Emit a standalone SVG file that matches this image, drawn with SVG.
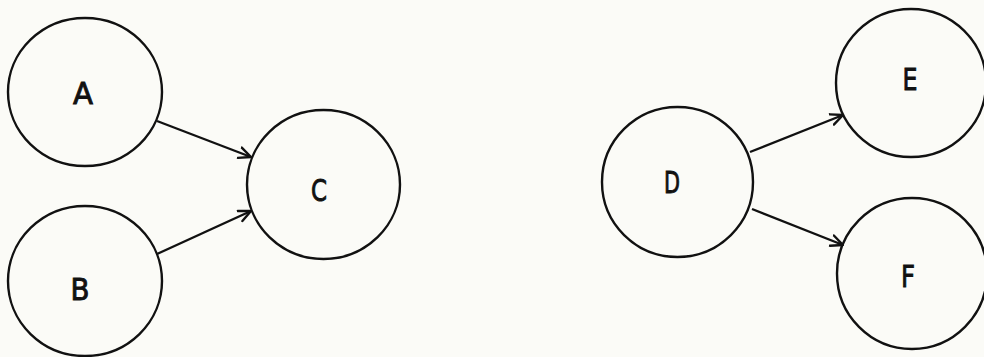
<svg xmlns="http://www.w3.org/2000/svg" width="984" height="357" viewBox="0 0 984 357">
<style>
.node{fill:none;stroke:#111;stroke-width:2.4}
.lbl{font-family:"DejaVu Sans","Liberation Sans",sans-serif;font-size:30px;fill:#111;stroke:#111;stroke-width:0.9;text-anchor:middle}
.edge{fill:none;stroke:#111;stroke-width:2.4}
</style>
<defs>
<marker id="arr" viewBox="0 0 14 14" refX="13" refY="7" markerWidth="14" markerHeight="14" markerUnits="userSpaceOnUse" orient="auto">
<path d="M1,1.5 L13,7 L1,12.5" fill="none" stroke="#111" stroke-width="2.4" stroke-linecap="round" stroke-linejoin="round"/>
</marker>
</defs>
<rect width="984" height="357" fill="#fbfbf7"/>
<g id="A"><ellipse class="node" cx="85" cy="92" rx="77" ry="74"/><text class="lbl" x="83" y="104" textLength="20" lengthAdjust="spacingAndGlyphs">A</text></g>
<g id="B"><ellipse class="node" cx="85" cy="281" rx="77" ry="75"/><text class="lbl" x="80" y="300" textLength="19" lengthAdjust="spacingAndGlyphs">B</text></g>
<g id="C"><ellipse class="node" cx="323.5" cy="184.5" rx="76.5" ry="74.5"/><text class="lbl" x="319" y="201" textLength="16" lengthAdjust="spacingAndGlyphs">C</text></g>
<g id="D"><ellipse class="node" cx="677.5" cy="182" rx="75.5" ry="75"/><text class="lbl" x="672" y="193" textLength="16" lengthAdjust="spacingAndGlyphs">D</text></g>
<g id="E"><ellipse class="node" cx="911" cy="83" rx="75" ry="74"/><text class="lbl" x="910" y="90" textLength="15" lengthAdjust="spacingAndGlyphs">E</text></g>
<g id="F"><ellipse class="node" cx="912" cy="273.5" rx="75" ry="75.5"/><text class="lbl" x="908" y="287" textLength="14" lengthAdjust="spacingAndGlyphs">F</text></g>
<g id="connectors">
<line class="edge" x1="157" y1="121" x2="251" y2="157" marker-end="url(#arr)"/>
<line class="edge" x1="157" y1="254" x2="251" y2="211" marker-end="url(#arr)"/>
<line class="edge" x1="750" y1="152" x2="843" y2="115" marker-end="url(#arr)"/>
<line class="edge" x1="752" y1="209" x2="843" y2="245" marker-end="url(#arr)"/>
</g>
</svg>
